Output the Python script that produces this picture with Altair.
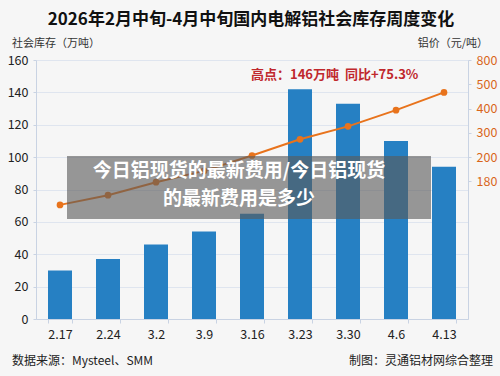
import altair as alt
import pandas as pd

# ---- data ----
weeks = ["2.17", "2.24", "3.2", "3.9", "3.16", "3.23", "3.30", "4.6", "4.13"]
stock = [30, 37, 46, 54, 65, 142, 133, 110, 94]            # 社会库存（万吨）
price_pos = [70.5, 76.5, 84.5, 91.5, 101, 111, 119, 129, 140]  # price line, drawn on the shared scale
left_ticks = [0, 20, 40, 60, 80, 100, 120, 140, 160]
right_ticks = [160, 145, 130, 115, 100, 85]
right_labels = ["800", "500", "400", "300", "200", "180"]

title_text = "2026年2月中旬-4月中旬国内电解铝社会库存周度变化"
left_title = "社会库存（万吨）"
right_title = "铝价（元/吨）"
note_text = "高点：146万吨\u00a0\u00a0同比+75.3%"
overlay_lines = ["今日铝现货的最新费用/今日铝现货", "的最新费用是多少"]
source_text = "数据来源：Mysteel、SMM"
credit_text = "制图：灵通铝材网综合整理"

FONT = "Noto Sans CJK SC"
BLUE = "#2680c3"
ORANGE = "#e8731c"
GRID = "#dfe5ef"
AXIS = "#c9d3e3"

df = pd.DataFrame({"week": weeks, "stock": stock, "price": price_pos})

label_expr = " : ".join(
    f"datum.value == {v} ? '{l}'" for v, l in zip(right_ticks, right_labels)
) + " : ''"

x_enc = alt.X(
    "week:N", sort=weeks, title=None,
    scale=alt.Scale(paddingInner=0.5, paddingOuter=0.25),
    axis=alt.Axis(labelAngle=0, labelFontSize=12.5, labelColor="#222", labelFont=FONT,
                  domainColor=AXIS, tickColor=AXIS, tickSize=4, tickBand="extent",
                  labelPadding=5),
)

bars = alt.Chart(df).mark_bar(color=BLUE).encode(
    x=x_enc,
    y=alt.Y("stock:Q", title=None,
            scale=alt.Scale(domain=[0, 160], nice=False),
            axis=alt.Axis(values=left_ticks, labelFontSize=12.5, labelColor="#222",
                          labelFont=FONT, gridColor=GRID, domainColor=AXIS,
                          tickColor=AXIS, tickSize=3, labelPadding=5)),
)

line = alt.Chart(df).mark_line(color=ORANGE, strokeWidth=2,
                               point=alt.OverlayMarkDef(color=ORANGE, size=45, filled=True)).encode(
    x=alt.X("week:N", sort=weeks),
    y=alt.Y("price:Q", title=None,
            scale=alt.Scale(domain=[0, 160], nice=False),
            axis=alt.Axis(orient="right", values=right_ticks, labelExpr=label_expr,
                          labelFontSize=12.5, labelColor="#d9661a", labelFont=FONT,
                          grid=False, domainColor=AXIS, tickColor=AXIS, tickSize=3,
                          labelPadding=5)),
)

one = pd.DataFrame({"k": [0]})

overlay = alt.Chart(one).mark_rect(color="#5a5a5a", opacity=0.62).encode(
    x=alt.value(31), x2=alt.value(395), y=alt.value(96), y2=alt.value(159)
)

ov_df = pd.DataFrame({"t": overlay_lines, "yy": [110.5, 138.5]})
overlay_txt = alt.Chart(ov_df).mark_text(
    font=FONT, fontSize=19, fontWeight="bold", color="white", align="center", baseline="middle"
).encode(x=alt.value(203), y=alt.Y("yy:Q", scale=None), text="t:N")

def txt(s, x, y, size, color="#222", weight="normal", align="left"):
    return alt.Chart(pd.DataFrame({"t": [s]})).mark_text(
        font=FONT, fontSize=size, fontWeight=weight, color=color, align=align, baseline="middle"
    ).encode(x=alt.value(x), y=alt.value(y), text="t:N")

title = txt(title_text, 215, -40, 17, "#111", "bold", "center")
lt = txt(left_title, -24, -16, 11, "#333")
rt = txt(right_title, 452, -16, 11, "#333", align="right")
note = txt(note_text, 215, 15, 13, "#c0282d", "bold")
src = txt(source_text, -24, 301, 12, "#222")
cred = txt(credit_text, 457, 301, 12, "#222", align="right")

chart = alt.layer(bars, line, overlay, overlay_txt, title, lt, rt, note, src, cred).resolve_scale(
    y="independent"
).properties(
    width=432, height=259,
    autosize=alt.AutoSizeParams(type="none"),
    padding={"left": 36, "top": 60, "right": 32, "bottom": 57},
    background="#f6f6f6",
).configure_view(stroke=None)

chart.save("out.html", embed_options={"renderer": "svg", "actions": False})
